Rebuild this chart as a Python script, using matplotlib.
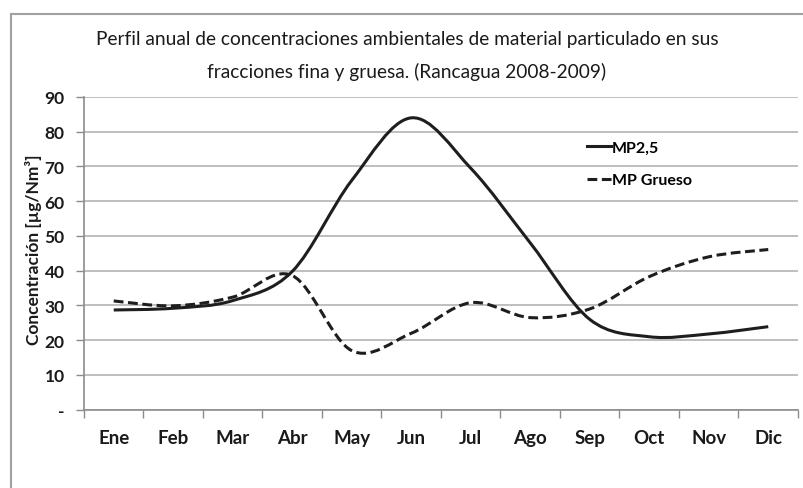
import numpy as np
import matplotlib
matplotlib.use("Agg")
import matplotlib.pyplot as plt
from matplotlib.path import Path
from matplotlib.patches import PathPatch
from matplotlib.lines import Line2D

plt.rcParams["font.family"] = ["Lato", "DejaVu Sans"]

meses = ["Ene", "Feb", "Mar", "Abr", "May", "Jun", "Jul", "Ago", "Sep", "Oct", "Nov", "Dic"]
mp25 = [28.7, 29.2, 31.4, 39.8, 66.0, 84.0, 69.5, 48.0, 26.0, 21.0, 21.8, 23.9]
mp_grueso = [31.3, 29.9, 32.4, 38.6, 17.0, 22.0, 30.8, 26.5, 29.0, 38.3, 44.0, 46.1]

y_ticks = [0, 10, 20, 30, 40, 50, 60, 70, 80, 90]
y_tick_labels = ["-", "10", "20", "30", "40", "50", "60", "70", "80", "90"]

GRIS_EJE = "#8c8c8c"
GRIS_GRID = "#b4b4b4"
NEGRO = "#1e1e1e"
TEXTO = "#1a1a1a"
LW = 2.2
DASH = (0, (3.2, 1.5))


def curva_suave(x, y):
    # Bezier tipo "línea suavizada" de Excel (Catmull-Rom, factor 1/6)
    x = np.asarray(x, float)
    y = np.asarray(y, float)
    n = len(x)
    verts = [(x[0], y[0])]
    codes = [Path.MOVETO]
    for i in range(n - 1):
        i0 = max(i - 1, 0)
        i3 = min(i + 2, n - 1)
        c1 = (x[i] + (x[i + 1] - x[i0]) / 6.0, y[i] + (y[i + 1] - y[i0]) / 6.0)
        c2 = (x[i + 1] - (x[i3] - x[i]) / 6.0, y[i + 1] - (y[i3] - y[i]) / 6.0)
        verts += [c1, c2, (x[i + 1], y[i + 1])]
        codes += [Path.CURVE4] * 3
    return Path(verts, codes)


fig = plt.figure(figsize=(8.04, 4.89), dpi=100)
ax = fig.add_axes([84 / 804, 1 - 410.7 / 489, (798 - 84) / 804, (410.7 - 98) / 489])

xs = np.arange(len(meses))

ax.add_patch(PathPatch(curva_suave(xs, mp25), fill=False, edgecolor=NEGRO,
                       lw=LW, capstyle="butt", zorder=3))
ax.add_patch(PathPatch(curva_suave(xs, mp_grueso), fill=False, edgecolor=NEGRO,
                       lw=LW, linestyle=DASH, capstyle="butt", zorder=3))

ax.set_xlim(-0.5, len(meses) - 0.5)
ax.set_ylim(0, 90)

ax.set_yticks(y_ticks)
ax.set_yticklabels(y_tick_labels)
ax.set_xticks(xs)
ax.set_xticklabels(meses)
ax.set_xticks(np.arange(len(meses) + 1) - 0.5, minor=True)

ax.tick_params(axis="x", which="major", length=0, pad=14, labelsize=13.5)
ax.tick_params(axis="x", which="minor", length=6, width=1, color=GRIS_EJE, direction="out")
ax.tick_params(axis="y", length=6, width=1, color=GRIS_EJE, direction="out",
               pad=8, labelsize=12.5)
for lab in ax.get_xticklabels() + ax.get_yticklabels():
    lab.set_fontweight("bold")
    lab.set_color(TEXTO)

ax.grid(axis="y", color=GRIS_GRID, lw=1.2)
ax.set_axisbelow(True)
for lado in ["top", "right"]:
    ax.spines[lado].set_visible(False)
for lado in ["left", "bottom"]:
    ax.spines[lado].set_color(GRIS_EJE)
    ax.spines[lado].set_linewidth(1.2)

fig.text(34 / 804, 1 - 250 / 489, "Concentración [µg/Nm³]", rotation=90,
         ha="center", va="center", fontsize=12.5, fontweight="bold", color=TEXTO)

handles = [Line2D([], [], color=NEGRO, lw=LW),
           Line2D([], [], color=NEGRO, lw=LW, linestyle=DASH)]
ax.legend(handles, ["MP2,5", "MP Grueso"], loc="upper left",
          bbox_to_anchor=(573 / 804, 1 - 127 / 489), bbox_transform=fig.transFigure,
          frameon=False, handlelength=1.5, handletextpad=0.05, labelspacing=1.15,
          prop={"weight": "bold", "size": 11.5})

fig.text(407 / 804, 1 - 40 / 489,
         "Perfil anual de concentraciones ambientales de material particulado en sus",
         ha="center", va="center", fontsize=13.8, color=TEXTO)
fig.text(407 / 804, 1 - 72 / 489,
         "fracciones fina y gruesa. (Rancagua 2008-2009)",
         ha="center", va="center", fontsize=13.8, color=TEXTO)

# marco exterior del gráfico
fig.add_artist(Line2D([11.5 / 804, 11.5 / 804], [0, 1 - 15 / 489],
                      transform=fig.transFigure, color="#a0a0a0", lw=1.5))
fig.add_artist(Line2D([11.5 / 804, 1], [1 - 15 / 489, 1 - 15 / 489],
                      transform=fig.transFigure, color="#a0a0a0", lw=1.5))

fig.savefig("out.png", dpi=100)
